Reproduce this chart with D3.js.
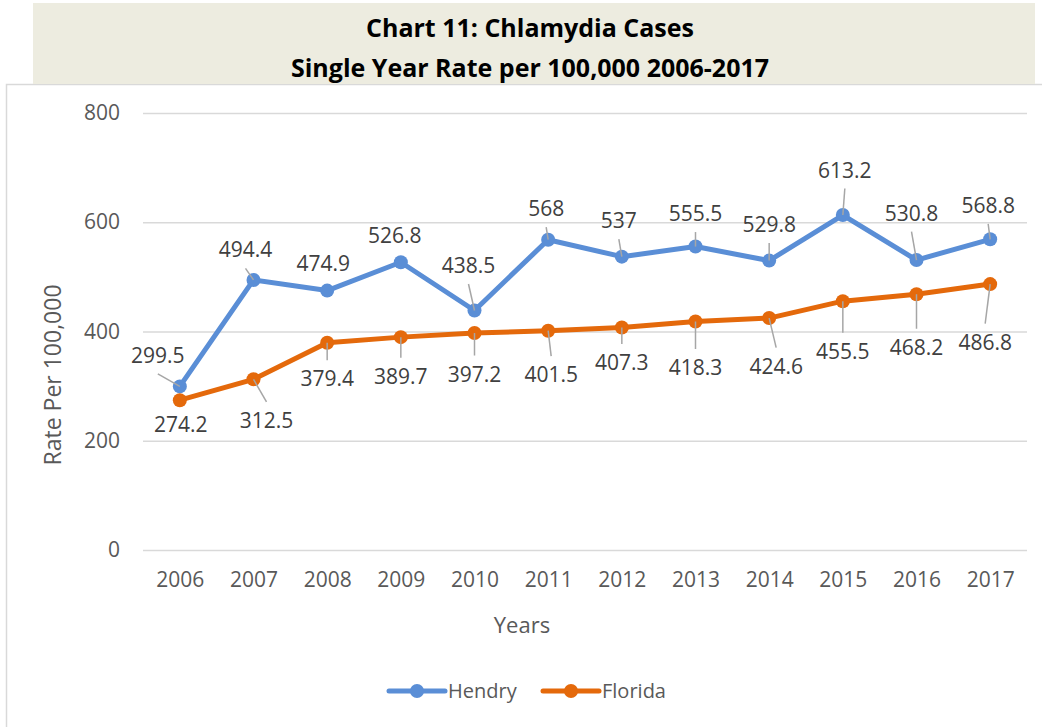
<!DOCTYPE html>
<html>
<head>
<meta charset="utf-8">
<script src="https://cdn.jsdelivr.net/npm/d3@7"></script>
<style>
  body { margin: 0; background: #fff; }
  svg { display: block; font-family: "Open Sans", sans-serif; }
</style>
</head>
<body>
<div id="chart"></div>
<script>
// data
var years = [2006, 2007, 2008, 2009, 2010, 2011, 2012, 2013, 2014, 2015, 2016, 2017];
var hendry = [299.5, 494.4, 474.9, 526.8, 438.5, 568, 537, 555.5, 529.8, 613.2, 530.8, 568.8];
var florida = [274.2, 312.5, 379.4, 389.7, 397.2, 401.5, 407.3, 418.3, 424.6, 455.5, 468.2, 486.8];
var yTicks = [0, 200, 400, 600, 800];
var seriesNames = ["Hendry", "Florida"];

// label placement (offset of label centre from its point), as in the original
var hendryLabelPos = [[-22,-31],[-8,-30],[-4,-27],[-6,-27],[-6,-45],[-2,-31],[-3,-36],[0,-33],[0,-36],[2,-45],[-5,-47],[-2,-34]];
var floridaLabelPos = [[1,24],[13,41],[0,36],[0,39],[0,41],[3,44],[0,35],[0,46],[7,48],[0,50],[0,53],[-5,58]];

var W = 1042, H = 727;
var plot = { left: 143, right: 1027, top: 113, bottom: 550 };
var colours = { Hendry: "#5A8ED6", Florida: "#E4690B" };

var svg = d3.select("#chart").append("svg")
    .attr("width", W)
    .attr("height", H);

// chart frame + title banner
svg.append("rect")
    .attr("x", 6.5).attr("y", 84.5)
    .attr("width", W).attr("height", H)
    .attr("fill", "#fff")
    .attr("stroke", "#D9D9D9").attr("stroke-width", 1.5);

svg.append("rect")
    .attr("x", 33).attr("y", 3)
    .attr("width", 1002).attr("height", 81)
    .attr("fill", "#EDECE0");

var titleLines = ["Chart 11: Chlamydia Cases", "Single Year Rate per 100,000 2006-2017"];
svg.selectAll(".title")
    .data(titleLines)
    .enter().append("text")
    .attr("class", "title")
    .attr("x", 530)
    .attr("y", function(d, i){ return 37 + i * 40; })
    .attr("text-anchor", "middle")
    .attr("font-size", 25)
    .attr("font-weight", "bold")
    .attr("fill", "#000")
    .text(function(d){ return d; });

var x = d3.scalePoint()
    .domain(years)
    .range([plot.left, plot.right])
    .padding(0.5);

var y = d3.scaleLinear()
    .domain([0, 800])
    .range([plot.bottom, plot.top]);

// gridlines
var grid = svg.append("g")
    .attr("transform", "translate(" + plot.left + ",0)")
    .call(d3.axisLeft(y).tickValues(yTicks).tickSize(-(plot.right - plot.left)).tickFormat(""));
grid.select(".domain").remove();
grid.selectAll("line").attr("stroke", "#D9D9D9").attr("stroke-width", 1.5);

// y tick labels
var yAxis = svg.append("g")
    .attr("transform", "translate(120,0)")
    .call(d3.axisLeft(y).tickValues(yTicks).tickSize(0).tickPadding(0));
yAxis.select(".domain").remove();
yAxis.selectAll("text")
    .attr("font-family", "Open Sans, sans-serif")
    .attr("font-size", 21)
    .attr("fill", "#595959");

// x tick labels
var xAxis = svg.append("g")
    .attr("transform", "translate(0," + plot.bottom + ")")
    .call(d3.axisBottom(x).tickSize(0).tickPadding(22));
xAxis.select(".domain").remove();
xAxis.selectAll("text")
    .attr("font-family", "Open Sans, sans-serif")
    .attr("font-size", 21)
    .attr("fill", "#595959");

// axis titles
svg.append("text")
    .attr("x", 522).attr("y", 633)
    .attr("text-anchor", "middle")
    .attr("font-size", 22)
    .attr("fill", "#595959")
    .text("Years");

svg.append("text")
    .attr("transform", "translate(61,375) rotate(-90)")
    .attr("text-anchor", "middle")
    .attr("font-size", 23)
    .attr("fill", "#595959")
    .text("Rate Per 100,000");

// series
var series = [
    { name: "Hendry", values: hendry, labelPos: hendryLabelPos },
    { name: "Florida", values: florida, labelPos: floridaLabelPos }
];

var line = d3.line()
    .x(function(d, i){ return x(years[i]); })
    .y(function(d){ return y(d); });

series.forEach(function(s){
    svg.append("path")
        .datum(s.values)
        .attr("d", line)
        .attr("fill", "none")
        .attr("stroke", colours[s.name])
        .attr("stroke-width", 5)
        .attr("stroke-linejoin", "round")
        .attr("stroke-linecap", "round");

    svg.selectAll(".dot-" + s.name)
        .data(s.values)
        .enter().append("circle")
        .attr("class", "dot-" + s.name)
        .attr("cx", function(d, i){ return x(years[i]); })
        .attr("cy", function(d){ return y(d); })
        .attr("r", 7)
        .attr("fill", colours[s.name]);
});

// data labels with leader lines
series.forEach(function(s){
    s.values.forEach(function(v, i){
        var px = x(years[i]), py = y(v);
        var cx = px + s.labelPos[i][0], cy = py + s.labelPos[i][1];
        var half = 7.5;
        var above = cy < py;
        var gap = above ? (py - (cy + half)) : ((cy - half) - py);
        if (gap > 21) {
            svg.append("line")
                .attr("x1", cx)
                .attr("y1", above ? cy + half + 11 : cy - half - 11)
                .attr("x2", px)
                .attr("y2", py)
                .attr("stroke", "#A6A6A6")
                .attr("stroke-width", 1.5);
        }
        svg.append("text")
            .attr("x", cx)
            .attr("y", cy + half)
            .attr("text-anchor", "middle")
            .attr("font-size", 21)
            .attr("fill", "#404040")
            .text(v);
    });
});

// legend
var legend = svg.append("g").attr("transform", "translate(389,691)");
var legendItems = legend.selectAll(".legend")
    .data(seriesNames)
    .enter().append("g")
    .attr("class", "legend")
    .attr("transform", function(d, i){ return "translate(" + (i * 154) + ",0)"; });

legendItems.append("line")
    .attr("x1", 0).attr("x2", 56)
    .attr("stroke", function(d){ return colours[d]; })
    .attr("stroke-width", 5)
    .attr("stroke-linecap", "round");

legendItems.append("circle")
    .attr("cx", 28).attr("r", 7)
    .attr("fill", function(d){ return colours[d]; });

legendItems.append("text")
    .attr("x", 59).attr("y", 7)
    .attr("font-size", 20)
    .attr("fill", "#595959")
    .text(function(d){ return d; });
</script>
</body>
</html>
